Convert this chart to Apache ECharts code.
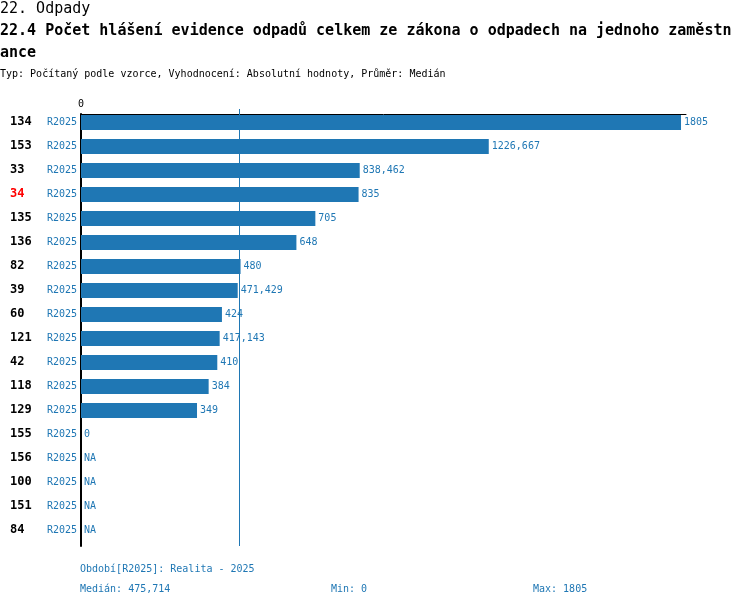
<!DOCTYPE html>
<html>

<head>
  <meta charset="UTF-8">
  <title>22.4 Počet hlášení evidence odpadů</title>
  <style>
    html, body { margin: 0; padding: 0; background: #fff; }
    #chart { width: 750px; height: 606px; }
  </style>
  <script type="text/javascript" src="https://cdn.jsdelivr.net/npm/echarts@6/dist/echarts.min.js"></script>
</head>

<body>
  <div id="chart"></div>

  <script>
    // data
    var ids = ['134', '153', '33', '34', '135', '136', '82', '39', '60', '121', '42', '118', '129', '155', '156', '100', '151', '84'];
    var periods = ['R2025', 'R2025', 'R2025', 'R2025', 'R2025', 'R2025', 'R2025', 'R2025', 'R2025', 'R2025', 'R2025', 'R2025', 'R2025', 'R2025', 'R2025', 'R2025', 'R2025', 'R2025'];
    var values = [1805, 1226.6667, 838.4615, 835, 705, 648, 480, 471.4286, 424, 417.1429, 410, 384, 349, 0, null, null, null, null];
    var highlightId = '34';

    var titleLines = [
      '22. Odpady',
      '22.4 Počet hlášení evidence odpadů celkem ze zákona o odpadech na jednoho zaměstn',
      'ance'
    ];
    var subtitle = 'Typ: Počítaný podle vzorce, Vyhodnocení: Absolutní hodnoty, Průměr: Medián';
    var periodNote = 'Období[R2025]: Realita - 2025';

    var FONT = 'DejaVu Sans Mono';
    var BLUE = '#1f77b4';

    function fmt(v) {
      return String(Math.round(v * 1000) / 1000).replace('.', ',');
    }

    // median / min / max of the known values
    var known = values.filter(v => v !== null).sort((a, b) => a - b);
    var mid = Math.floor(known.length / 2);
    var median = known.length % 2 ? known[mid] : (known[mid - 1] + known[mid]) / 2;
    var minVal = known[0];
    var maxVal = known[known.length - 1];

    var barData = values.map(v => v === null ? { value: 0, label: { formatter: 'NA' } } : v);

    var chart = echarts.init(document.getElementById('chart'));
    var option = {
      animation: false,
      textStyle: { fontFamily: FONT },
      title: [
        { text: titleLines[0], left: 0, top: 2, padding: 0, textStyle: { fontFamily: FONT, fontSize: 15, fontWeight: 'normal', color: '#000' } },
        { text: titleLines[1], left: 0, top: 24, padding: 0, textStyle: { fontFamily: FONT, fontSize: 15, fontWeight: 'bold', color: '#000' } },
        { text: titleLines[2], left: 0, top: 46, padding: 0, textStyle: { fontFamily: FONT, fontSize: 15, fontWeight: 'bold', color: '#000' } },
        { text: subtitle, left: 0, top: 69, padding: 0, textStyle: { fontFamily: FONT, fontSize: 10, fontWeight: 'normal', color: '#000' } }
      ],
      grid: { left: 81, top: 114, width: 605, height: 432 },
      xAxis: {
        type: 'value',
        position: 'top',
        min: 0,
        max: 1820,
        axisLine: { show: true, lineStyle: { color: '#000', width: 1 } },
        axisTick: {
          show: true,
          customValues: [median],
          length: 5,
          lineStyle: { color: BLUE, width: 1 }
        },
        splitLine: { show: false },
        axisLabel: {
          margin: 5,
          customValues: [0],
          fontFamily: FONT, fontSize: 10, color: '#000',
          formatter: v => v === 0 ? '0' : ''
        }
      },
      yAxis: {
        type: 'category',
        inverse: true,
        data: ids,
        axisLine: { show: true, lineStyle: { color: '#000', width: 2 } },
        axisTick: { show: false },
        axisLabel: {
          margin: 4,
          padding: [0, 0, 8, 0],
          formatter: function (id, i) {
            var tag = id === highlightId ? 'red' : 'id';
            return '{' + tag + '|' + id + '}{per|' + periods[i] + '}';
          },
          rich: {
            id: { width: 37, align: 'left', fontFamily: FONT, fontSize: 12, fontWeight: 'bold', color: '#000' },
            red: { width: 37, align: 'left', fontFamily: FONT, fontSize: 12, fontWeight: 'bold', color: '#ff0000' },
            per: { width: 30, align: 'right', fontFamily: FONT, fontSize: 10, color: BLUE }
          }
        }
      },
      series: [
        {
          type: 'bar',
          data: barData,
          barWidth: 15,
          barGap: '0%',
          itemStyle: { color: BLUE },
          label: {
            show: true,
            position: 'right',
            distance: 3,
            fontFamily: FONT, fontSize: 10, color: BLUE,
            formatter: p => fmt(p.value)
          },
          markLine: {
            silent: true,
            symbol: 'none',
            label: { show: false },
            lineStyle: { color: BLUE, type: 'solid', width: 1, opacity: 1 },
            emphasis: { disabled: true },
            data: [{ xAxis: median }]
          }
        },
        {
          // spacer so the bar sits at the top of its row
          type: 'bar',
          data: values.map(() => null),
          barWidth: 7,
          barGap: '0%',
          silent: true
        }
      ],
      graphic: [
        { type: 'text', left: 80, top: 564, style: { text: periodNote, font: '10px "' + FONT + '"', fill: BLUE } },
        { type: 'text', left: 80, top: 584, style: { text: 'Medián: ' + fmt(median), font: '10px "' + FONT + '"', fill: BLUE } },
        { type: 'text', left: 331, top: 584, style: { text: 'Min: ' + fmt(minVal), font: '10px "' + FONT + '"', fill: BLUE } },
        { type: 'text', left: 533, top: 584, style: { text: 'Max: ' + fmt(maxVal), font: '10px "' + FONT + '"', fill: BLUE } }
      ]
    };
    chart.setOption(option);
  </script>
</body>
</html>
